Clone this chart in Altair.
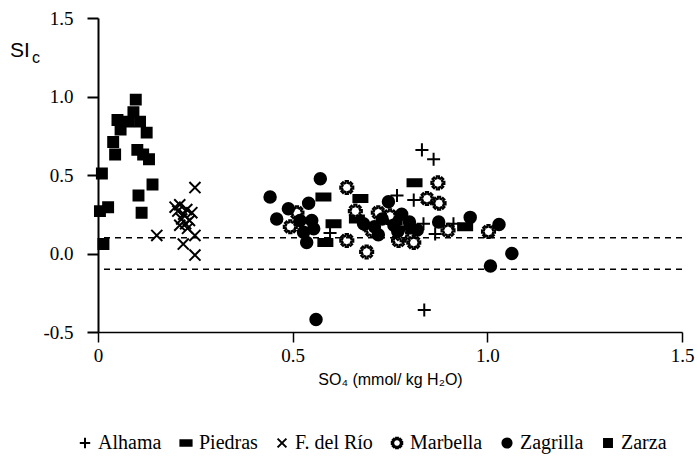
import math
import altair as alt
import pandas as pd

# ---------------- data ----------------
alhama_x = [0.832, 0.862, 0.768, 0.811, 0.836, 0.866, 0.913, 0.838, 0.596, 0.780, 0.800]
alhama_y = [0.66, 0.60, 0.37, 0.34, 0.19, 0.125, 0.19, -0.36, 0.13, 0.22, 0.17]

piedras_x = [0.579, 0.674, 0.605, 0.584, 0.665, 0.813, 0.943, 0.760, 0.700, 0.790]
piedras_y = [0.36, 0.35, 0.19, 0.07, 0.22, 0.45, 0.17, 0.21, 0.17, 0.15]

rio_x = [0.249, 0.151, 0.198, 0.205, 0.210, 0.215, 0.220, 0.225, 0.230, 0.235,
         0.241, 0.249, 0.219, 0.249, 0.210, 0.228]
rio_y = [0.42, 0.115, 0.295, 0.27, 0.31, 0.22, 0.25, 0.19, 0.16, 0.21,
         0.26, 0.115, 0.06, -0.01, 0.18, 0.28]

marbella_x = [0.639, 0.661, 0.494, 0.511, 0.639, 0.690, 0.720, 0.703, 0.772, 0.811,
              0.873, 0.845, 0.876, 0.899, 1.003, 0.750, 0.780]
marbella_y = [0.42, 0.27, 0.17, 0.26, 0.083, 0.01, 0.26, 0.147, 0.083, 0.07,
              0.45, 0.35, 0.32, 0.147, 0.14, 0.24, 0.12]

zagrilla_x = [0.442, 0.571, 0.459, 0.489, 0.541, 0.519, 0.549, 0.528, 0.536, 0.554,
              0.682, 0.746, 0.730, 0.760, 0.780, 0.800, 0.820, 0.770, 0.875, 0.956,
              1.030, 1.063, 1.008, 0.560, 0.710, 0.720]
zagrilla_y = [0.36, 0.476, 0.22, 0.285, 0.32, 0.21, 0.21, 0.136, 0.07, 0.157,
              0.19, 0.33, 0.22, 0.18, 0.25, 0.20, 0.15, 0.14, 0.20, 0.23,
              0.185, 0.00, -0.08, -0.42, 0.17, 0.12]

zarza_x = [0.010, 0.005, 0.026, 0.014, 0.039, 0.044, 0.050, 0.058, 0.078, 0.091,
           0.097, 0.108, 0.125, 0.101, 0.116, 0.131, 0.140, 0.104, 0.112]
zarza_y = [0.51, 0.27, 0.295, 0.06, 0.71, 0.63, 0.85, 0.79, 0.84, 0.90,
           0.98, 0.84, 0.77, 0.66, 0.63, 0.60, 0.44, 0.37, 0.26]

sites = ["Alhama", "Piedras", "F. del Río", "Marbella", "Zagrilla", "Zarza"]
ref_lines = [0.1, -0.1]
x_ticks = [0, 0.5, 1.0, 1.5]
y_ticks = [-0.5, 0, 0.5, 1.0, 1.5]

series = {
    "Alhama": (alhama_x, alhama_y),
    "Piedras": (piedras_x, piedras_y),
    "F. del Río": (rio_x, rio_y),
    "Marbella": (marbella_x, marbella_y),
    "Zagrilla": (zagrilla_x, zagrilla_y),
    "Zarza": (zarza_x, zarza_y),
}
rows = []
for s in sites:
    xs, ys = series[s]
    for a, b in zip(xs, ys):
        rows.append({"site": s, "so4": a, "si": b})
df = pd.DataFrame(rows)

# ---------------- marker shapes ----------------
plus_path = "M-0.93,0H0.93M0,-0.93V0.93"
rect_path = "M-1,-0.5H1V0.5H-1Z"
x_path = "M-0.79,-0.79L0.79,0.79M-0.79,0.79L0.79,-0.79"
def gear(n=8, ro=0.95, ri=0.66, wo=10, wi=14):
    pts = []
    for k in range(n):
        a = k * 360 / n
        for ang, r in ((a - wi, ri), (a - wo, ro), (a + wo, ro), (a + wi, ri)):
            t = math.radians(ang)
            pts.append(f"{r*math.cos(t):.3f},{r*math.sin(t):.3f}")
    return "M" + "L".join(pts) + "Z"
gear_path = gear()
circle_path = "M0.82,0A0.82,0.82,0,1,1,-0.82,0A0.82,0.82,0,1,1,0.82,0Z"
square_path = "M-0.71,-0.71H0.71V0.71H-0.71Z"

shapes = [plus_path, rect_path, x_path, gear_path, circle_path, square_path]
fills = ["transparent", "black", "transparent", "white", "black", "black"]
strokes = ["black"] * 6

W, H = 584, 314
SERIF = "Liberation Serif"

leg = dict(title=None, orient="none", legendX=-23, legendY=415,
           direction="horizontal", columns=6,
           labelFont=SERIF, labelFontSize=20,
           labelColor="black", symbolSize=125,
           symbolStrokeWidth=2, symbolStrokeColor="black",
           symbolOpacity=1, columnPadding=14, labelOffset=3)

points = alt.Chart(df).mark_point(
    strokeWidth=2, opacity=1, size=196
).encode(
    x=alt.X("so4:Q", scale=alt.Scale(domain=[0, 1.5], nice=False, zero=False),
            axis=alt.Axis(values=x_ticks, title="SO₄ (mmol/ kg H₂O)",
                          labelExpr="datum.value == 0 ? '0' : format(datum.value, '.1f')",
                          labelFont=SERIF, labelFontSize=19,
                          tickSize=10, domainWidth=1.5, tickWidth=1.5, labelPadding=4,
                          labelFlush=False, labelOverlap=False,
                          titleFont="Liberation Sans", titleFontSize=16,
                          titleFontWeight="normal", titlePadding=6)),
    y=alt.Y("si:Q", scale=alt.Scale(domain=[-0.5, 1.5], nice=False, zero=False),
            axis=alt.Axis(values=y_ticks, title=None,
                          labelExpr="datum.value < 0 ? '-' + format(-datum.value, '.1f') : format(datum.value, '.1f')",
                          labelFont=SERIF, labelFontSize=19,
                          tickSize=11, domainWidth=2, tickWidth=2, labelPadding=14,
                          labelFlush=False, labelOverlap=False)),
    shape=alt.Shape("site:N", scale=alt.Scale(domain=sites, range=shapes),
                    legend=alt.Legend(**leg)),
    fill=alt.Fill("site:N", scale=alt.Scale(domain=sites, range=fills),
                  legend=alt.Legend(**leg)),
    stroke=alt.Stroke("site:N", scale=alt.Scale(domain=sites, range=strokes),
                      legend=alt.Legend(**leg)),
)

rules = alt.Chart(pd.DataFrame({"si": ref_lines})).mark_rule(
    color="black", strokeWidth=1.5, strokeDash=[6, 5]
).encode(y="si:Q")

si_text = alt.Chart(pd.DataFrame({"t": ["SI"]})).mark_text(
    font="Liberation Sans", fontSize=21, align="left", baseline="alphabetic", color="black"
).encode(x=alt.value(-88), y=alt.value(39), text="t:N")

c_text = alt.Chart(pd.DataFrame({"t": ["c"]})).mark_text(
    font="Liberation Sans", fontSize=16, align="left", baseline="alphabetic", color="black"
).encode(x=alt.value(-66), y=alt.value(45), text="t:N")

chart = alt.layer(points, rules, si_text, c_text).properties(
    width=W, height=H,
    autosize=alt.AutoSizeParams(type="none"),
    padding={"left": 98, "top": 18, "right": 15, "bottom": 124},
    background="white",
).configure_view(stroke=None).configure_axis(
    grid=False, domainColor="black", tickColor="black", labelColor="black",
    titleColor="black", labelFont=SERIF,
)

chart.save("out.html", embed_options={"renderer": "svg", "actions": False})
